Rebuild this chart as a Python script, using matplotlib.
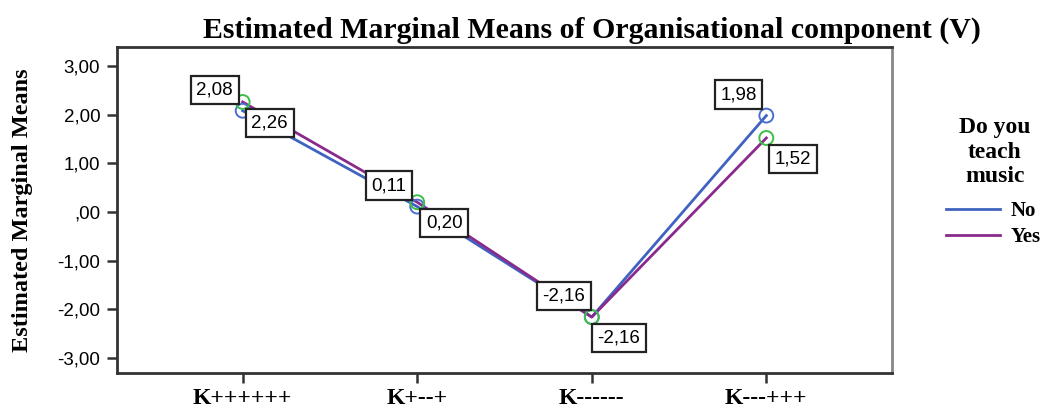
import matplotlib.pyplot as plt

categorias = ['K++++++', 'K+--+', 'K------', 'K---+++']
medias_no = [2.08, 0.11, -2.16, 1.98]
medias_si = [2.26, 0.20, -2.16, 1.52]
etiquetas_no = ['2,08', '0,11', '-2,16', '1,98']
etiquetas_si = ['2,26', '0,20', '-2,16', '1,52']
yticks = [3, 2, 1, 0, -1, -2, -3]
ytick_labels = ['3,00', '2,00', '1,00', ',00', '-1,00', '-2,00', '-3,00']

serif = 'Liberation Serif'
sans = 'Liberation Sans'

fig = plt.figure(figsize=(10.42, 4.11), dpi=100)
ax = fig.add_axes([117 / 1042, 1 - 373 / 411, (892 - 117) / 1042, (373 - 47) / 411])

x = range(len(categorias))
linea_no, = ax.plot(x, medias_no, color='#4062c0', lw=2, label='No', zorder=3)
linea_si, = ax.plot(x, medias_si, color='#8a2a8c', lw=2, label='Yes', zorder=3)
ax.scatter(x, medias_no, s=100, facecolors='none', edgecolors='#4a6ed0', lw=1.4, zorder=4)
ax.scatter(x, medias_si, s=100, facecolors='none', edgecolors='#3cbf4a', lw=1.4, zorder=4)

caja = dict(boxstyle='square,pad=0.3', fc='white', ec='#222222', lw=1.6)
for i in x:
    ax.annotate(etiquetas_no[i], (i, medias_no[i]), xytext=(-28, 21),
                textcoords='offset pixels', ha='center', va='center',
                fontsize=13.5, family=sans, bbox=caja, zorder=5)
    ax.annotate(etiquetas_si[i], (i, medias_si[i]), xytext=(27, -21),
                textcoords='offset pixels', ha='center', va='center',
                fontsize=13.5, family=sans, bbox=caja, zorder=5)

ax.set_xlim(-0.72, 3.72)
ax.set_ylim(-3.31, 3.39)
ax.set_xticks(list(x))
ax.set_xticklabels(categorias, family=serif, fontweight='bold', fontsize=17)
ax.set_yticks(yticks)
ax.set_yticklabels(ytick_labels, family=sans, fontsize=13.5)
ax.tick_params(axis='both', direction='out', length=7, width=1.8, color='#333333')
ax.tick_params(axis='x', pad=4)
ax.tick_params(axis='y', pad=5)

for lado in ['left', 'bottom', 'top']:
    ax.spines[lado].set_linewidth(2)
    ax.spines[lado].set_color('#333333')
ax.spines['right'].set_linewidth(2)
ax.spines['right'].set_color('#888888')

ax.set_ylabel('Estimated Marginal Means', family=serif, fontweight='bold', fontsize=17.5)
ax.yaxis.set_label_coords(-84 / 775, 0.5)
fig.text(592 / 1042, 1 - 30 / 411, 'Estimated Marginal Means of Organisational component (V)',
         ha='center', va='center', family=serif, fontweight='bold', fontsize=21.5)

# titulo de la leyenda aparte, para controlar el espacio
fig.text(995 / 1042, 1 - 152 / 411, 'Do you\nteach\nmusic', ha='center', va='center',
         multialignment='center', linespacing=1.2,
         family=serif, fontweight='bold', fontsize=17)
fig.legend(handles=[linea_no, linea_si], loc='center',
           bbox_to_anchor=(993 / 1042, 1 - 224 / 411),
           frameon=False, handlelength=2.6, handletextpad=0.5,
           prop={'family': serif, 'weight': 'bold', 'size': 15},
           labelspacing=0.3)

plt.savefig('out.png', dpi=100)
